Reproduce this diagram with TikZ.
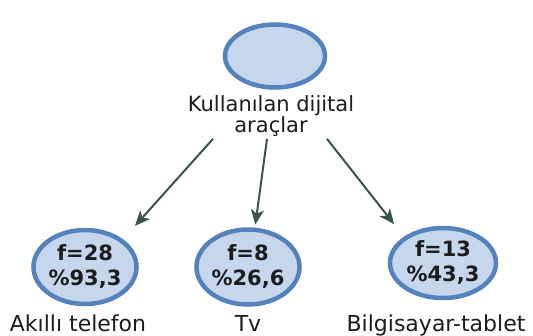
\documentclass[tikz,border=0pt]{standalone}
\usepackage{fontspec}
\setmainfont{DejaVu Sans}
\usetikzlibrary{arrows.meta,positioning,shapes.geometric}
\definecolor{ringblue}{RGB}{84,130,189}
\definecolor{fillblue}{RGB}{198,214,237}
\definecolor{arrowgreen}{RGB}{58,84,76}
\definecolor{textgray}{RGB}{28,28,28}
\tikzset{%
  >={Stealth[width=13pt,length=15pt,inset=4pt]},
  % Specifications for style of nodes:
      ring/.style = {ellipse, draw=ringblue, line width=4.5pt, fill=fillblue,
                     inner sep=0pt},
   topring/.style = {ring, minimum width=100pt, minimum height=63pt},
  leafring/.style = {ring, align=center, text=textgray,
                     font=\fontsize{21}{25}\selectfont\bfseries},
   caption/.style = {align=center, text=textgray, inner sep=0pt,
                     font=\fontsize{22}{20}\selectfont},
      link/.style = {->, draw=arrowgreen, line width=2pt},
}

\begin{document}
\begin{tikzpicture}[x=1pt, y=-1pt, node distance=60pt]
  \useasboundingbox (0,0) rectangle (533,335);
  % Specification of nodes (position, etc.)
  \node (araclar)      [topring] at (275,56) {};
  \node (araclartext)  [caption, below of=araclar, xshift=-4pt,
                        font=\fontsize{21}{20}\selectfont] {Kullanılan dijital\\araçlar};

  \node (telefon)  [leafring, minimum width=100pt, minimum height=74pt,
                    below of=araclar, node distance=211pt, xshift=-190pt] {f=28\\\%93,3};
  \node (tv)       [leafring, minimum width=81pt, minimum height=75pt,
                    below of=araclar, node distance=211pt, xshift=-27pt]  {f=8\\\%26,6};
  \node (tablet)   [leafring, minimum width=106pt, minimum height=70pt,
                    below of=araclar, node distance=207pt, xshift=168pt]  {f=13\\\%43,3};

  \node (telefontext) [caption, below of=telefon, node distance=56pt, xshift=-7pt] {Akıllı telefon};
  \node (tvtext)      [caption, below of=tv, node distance=56pt]                 {Tv};
  \node (tablettext)  [caption, below of=tablet, node distance=62pt, xshift=-7pt] {Bilgisayar-tablet};

  % Specification of lines between nodes specified above
  \draw[link, shorten >=18pt] ([xshift=-58pt, yshift=-2pt]araclartext.south) -- (telefon.north east);
  \draw[link, shorten >=3pt]  ([xshift=-4pt, yshift=-2pt]araclartext.south)  -- (tv.80);
  \draw[link, shorten >=16pt] ([xshift=56pt, yshift=-2pt]araclartext.south)  -- (tablet.north west);
\end{tikzpicture}
\end{document}
